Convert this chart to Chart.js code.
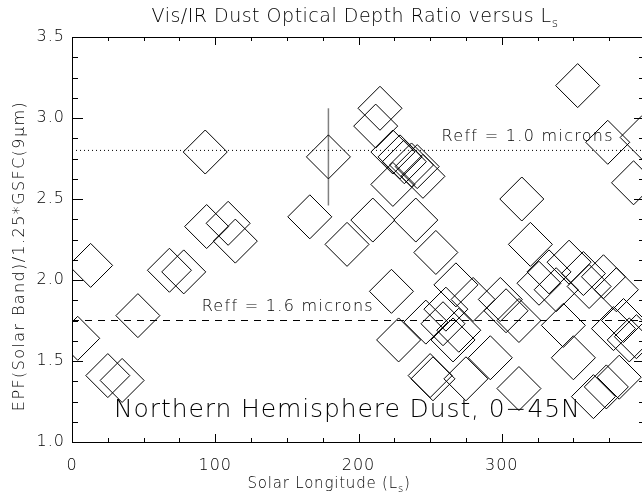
<!DOCTYPE html>
<html>
<head>
<meta charset="utf-8">
<script src="https://cdn.jsdelivr.net/npm/chart.js@4"></script>
<style>
  html, body { margin: 0; padding: 0; overflow: hidden; background: #fff; }
  canvas { display: block; }
</style>
</head>
<body>
<canvas id="chart" width="680" height="495"></canvas>
<script>
// solar longitude (Ls) and ratio for each diamond
const lsValues = [
  4, 13, 25, 35, 46, 68, 78, 93, 94, 109, 114,
  166, 179, 192, 210, 212, 215, 224, 229, 232, 237, 241, 224, 240, 245, 254,
  223, 228, 247, 250, 252,
  353, 374, 398, 392, 314, 320, 347,
  333, 357, 326, 338, 361, 380, 371, 268, 280, 299, 303, 312, 343, 378, 385, 389,
  259, 266, 261, 292, 350, 275, 312, 364, 373, 382, 270, 394
];
const ratioValues = [
  1.64, 2.09, 1.41, 1.38, 1.78, 2.06, 2.05, 2.79, 2.33, 2.35, 2.24,
  2.39, 2.76, 2.22, 2.37, 2.95, 3.06, 2.79, 2.76, 2.73, 2.71, 2.70, 2.59, 2.37, 2.64, 2.17,
  1.93, 1.63, 1.74, 1.41, 1.39,
  3.20, 2.85, 2.88, 2.60, 2.50, 2.22, 2.11,
  2.05, 2.04, 1.98, 1.94, 1.96, 1.94, 2.02, 1.97, 1.88, 1.88, 1.81, 1.75, 1.72, 1.70, 1.75, 1.63,
  1.73, 1.63, 1.82, 1.52, 1.52, 1.39, 1.33, 1.28, 1.34, 1.40, 1.69, 1.65
];

// the one error bar
const errLs = 179;
const errLow = 2.46;
const errHigh = 3.06;

// reference lines
const reff10 = 2.8;
const reff16 = 1.75;

const xMin = 0, xMax = 400;
const yMin = 1.0, yMax = 3.5;

const FONT = "'DejaVu Sans', sans-serif";
const W = '200 ';

const points = lsValues.map((x, i) => ({ x: x, y: ratioValues[i] }));

// text with a subscript, plus optional tail after it
function drawSub(ctx, main, sub, tail, x, y, size, spacing) {
  ctx.letterSpacing = spacing + 'px';
  ctx.font = W + size + "px " + FONT;
  const w1 = ctx.measureText(main).width;
  const w3 = ctx.measureText(tail).width;
  ctx.font = W + Math.round(size * 0.65) + "px " + FONT;
  const w2 = ctx.measureText(sub).width;
  const start = x - (w1 + w2 + w3) / 2;
  ctx.textAlign = 'left';
  ctx.textBaseline = 'middle';
  ctx.font = W + size + "px " + FONT;
  ctx.fillText(main, start, y);
  ctx.fillText(tail, start + w1 + w2, y);
  ctx.font = W + Math.round(size * 0.65) + "px " + FONT;
  ctx.fillText(sub, start + w1, y + size * 0.35);
}

const framePlugin = {
  id: 'frame',
  beforeDraw(chart) {
    chart.ctx.letterSpacing = '1px';
  },
  afterDraw(chart) {
    const ctx = chart.ctx;
    const a = chart.chartArea;
    const xs = chart.scales.x, ys = chart.scales.y;
    ctx.save();
    ctx.strokeStyle = '#000';
    ctx.lineWidth = 1;
    ctx.strokeRect(a.left + 0.5, a.top + 0.5, a.right - a.left, a.bottom - a.top);

    ctx.beginPath();
    for (let v = xMin; v <= xMax; v += 25) {
      const px = Math.round(xs.getPixelForValue(v)) + 0.5;
      const len = v % 100 === 0 ? 8 : 4;
      ctx.moveTo(px, a.bottom); ctx.lineTo(px, a.bottom - len);
      ctx.moveTo(px, a.top); ctx.lineTo(px, a.top + len);
    }
    for (let v = yMin; v <= yMax + 1e-6; v += 0.125) {
      const py = Math.round(ys.getPixelForValue(v)) + 0.5;
      const major = Math.abs(v * 2 - Math.round(v * 2)) < 1e-6;
      const len = major ? 11 : 6;
      ctx.moveTo(a.left, py); ctx.lineTo(a.left + len, py);
      ctx.moveTo(a.right, py); ctx.lineTo(a.right - len, py);
    }
    ctx.stroke();

    ctx.fillStyle = '#000';
    drawSub(ctx, 'Vis/IR Dust Optical Depth Ratio versus L', 's', '', 355, 17, 19, 0.5);
    drawSub(ctx, 'Solar Longitude (L', 's', ')', 329, 484, 15, 0.8);

    // y title
    ctx.save();
    ctx.translate(20, 256);
    ctx.rotate(-Math.PI / 2);
    ctx.letterSpacing = '1.4px';
    ctx.textAlign = 'center';
    ctx.textBaseline = 'middle';
    ctx.font = W + "16px " + FONT;
    ctx.fillText('EPF(Solar Band)/1.25*GSFC(9\u03bcm)', 0, 0);
    ctx.restore();

    // annotations placed in data space
    ctx.textAlign = 'left';
    ctx.textBaseline = 'middle';
    ctx.letterSpacing = '1.3px';
    ctx.font = W + "16px " + FONT;
    ctx.fillText('Reff = 1.0 microns', xs.getPixelForValue(258), ys.getPixelForValue(2.883));
    ctx.fillText('Reff = 1.6 microns', xs.getPixelForValue(90.5), ys.getPixelForValue(1.833));
    ctx.letterSpacing = '0.9px';
    ctx.font = W + "25px " + FONT;
    ctx.fillText('Northern Hemisphere Dust, 0\u221245N', xs.getPixelForValue(29.3), ys.getPixelForValue(1.197));
    ctx.restore();
  }
};

new Chart(document.getElementById('chart'), {
  type: 'scatter',
  data: {
    datasets: [
      {
        data: points,
        pointStyle: 'rectRot',
        pointRadius: 22,
        pointHoverRadius: 22,
        borderColor: '#000',
        backgroundColor: 'rgba(0,0,0,0)',
        borderWidth: 1
      },
      {
        type: 'line',
        data: [{ x: xMin, y: reff10 }, { x: xMax, y: reff10 }],
        borderColor: '#000',
        borderWidth: 1,
        borderDash: [1, 3],
        pointRadius: 0
      },
      {
        type: 'line',
        data: [{ x: xMin, y: reff16 }, { x: xMax, y: reff16 }],
        borderColor: '#000',
        borderWidth: 1,
        borderDash: [7, 6],
        pointRadius: 0
      },
      {
        type: 'line',
        data: [{ x: errLs, y: errLow }, { x: errLs, y: errHigh }],
        borderColor: '#808080',
        borderWidth: 1.5,
        pointRadius: 0
      }
    ]
  },
  options: {
    responsive: false,
    animation: false,
    devicePixelRatio: 1,
    layout: { padding: { top: 37, right: 35, left: 0, bottom: 0 } },
    plugins: {
      legend: { display: false },
      tooltip: { enabled: false },
      title: { display: false }
    },
    scales: {
      x: {
        type: 'linear',
        min: xMin,
        max: xMax,
        grid: { display: false, drawTicks: false },
        border: { display: false },
        ticks: {
          stepSize: 100,
          padding: 14,
          color: '#000',
          font: { family: FONT, size: 16, weight: '200' },
          maxRotation: 0,
          callback: v => (v === 400 ? '' : String(v))
        },
        afterFit: s => { s.height = 53; }
      },
      y: {
        min: yMin,
        max: yMax,
        grid: { display: false, drawTicks: false },
        border: { display: false },
        ticks: {
          stepSize: 0.5,
          padding: 7,
          color: '#000',
          font: { family: FONT, size: 16, weight: '200' },
          callback: v => v.toFixed(1)
        },
        afterFit: s => { s.width = 72; }
      }
    }
  },
  plugins: [framePlugin]
});
</script>
</body>
</html>
